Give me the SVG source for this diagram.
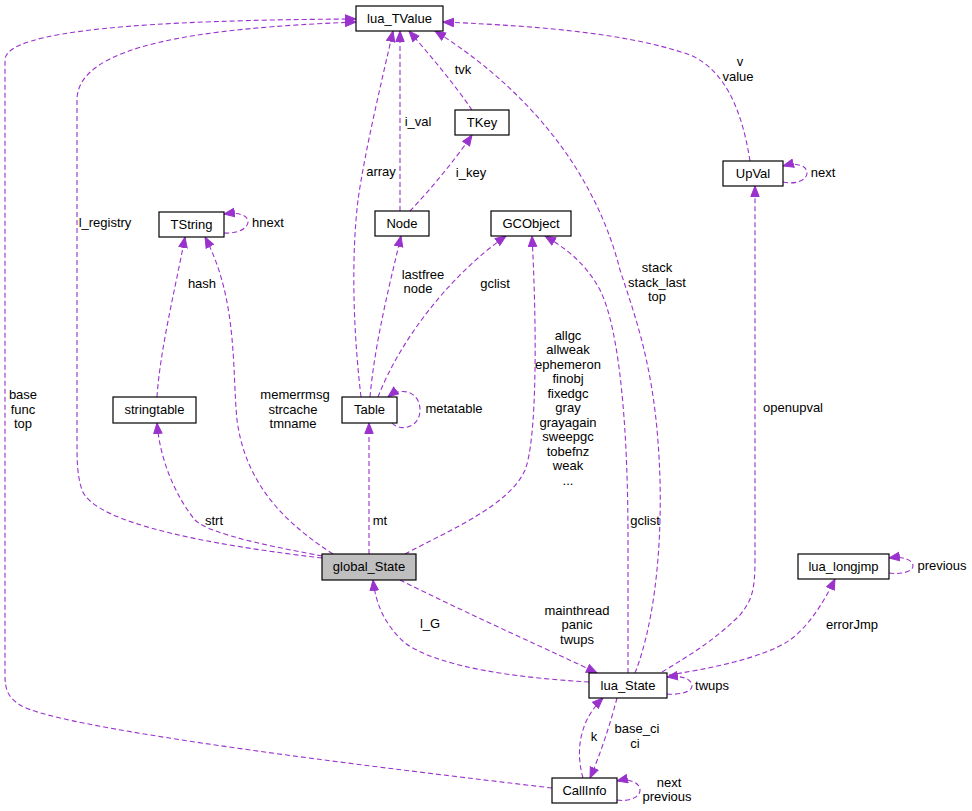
<svg xmlns="http://www.w3.org/2000/svg" width="972" height="811" viewBox="0 0 972 811">
<style>
.n rect{fill:#fff;stroke:#000;stroke-width:1.2}
.n text,.l{font-family:"Liberation Sans",Arial,sans-serif;font-size:13px;fill:#000;text-anchor:middle}
#edges path{fill:none;stroke:#9a32cd;stroke-width:1.1;stroke-dasharray:5,3;marker-end:url(#a)}
</style>
<defs>
<marker id="a" markerUnits="userSpaceOnUse" markerWidth="13" markerHeight="11" refX="11" refY="5" orient="auto">
<path d="M0.5,0.8 L11,5 L0.5,9.2 z" fill="#9a32cd" stroke="#9a32cd"/>
</marker>
</defs>
<rect width="972" height="811" fill="#fff"/>
<g id="edges">
<path d="M322,558 C220,546 95,525 82,490 C77,475 77,460 77,440 L77,100 C77,45 200,28 356,22"/>
<path d="M552,788 C400,770 60,730 20,705 C8,697 5,690 5,675 L5,60 C5,30 150,20 356,19"/>
<path d="M361,397 C352,320 352,250 358,200 C365,150 382,80 393,31"/>
<path d="M400,211 L400,31"/>
<path d="M472,110 C455,85 430,55 409,31"/>
<path d="M635,673 C652,630 662,560 660,480 C657,380 640,330 620,270 C600,190 545,100 435,31"/>
<path d="M750,161 C742,110 725,70 690,55 C620,30 510,25 443,22"/>
<path d="M783,182 C796,185 807,180 807,173 C807,166 798,162 783,166"/>
<path d="M224,233 C238,234 248,228 248,222 C248,215 238,212 224,214"/>
<path d="M157,397 C160,350 175,290 185,237"/>
<path d="M333,554 C280,520 245,480 237,420 C232,370 238,300 205,237"/>
<path d="M322,556 C280,548 210,535 195,520 C175,495 160,460 157,423"/>
<path d="M410,211 C430,190 455,160 472,135"/>
<path d="M370,397 C375,340 392,275 401,236"/>
<path d="M378,397 C400,340 450,275 506,236"/>
<path d="M392,423 C400,432 420,428 420,410 C420,392 402,386 388,397"/>
<path d="M369,554 L369,423"/>
<path d="M405,554 C450,530 510,505 525,470 C537,440 537,330 532,236"/>
<path d="M628,673 L628,540 C628,430 620,330 600,290 C585,262 565,248 545,236"/>
<path d="M400,580 C470,615 560,655 597,673"/>
<path d="M589,682 C520,678 440,668 405,643 C385,625 376,605 373,580"/>
<path d="M667,694 C680,695 692,692 692,686 C692,679 682,675 667,677"/>
<path d="M662,672 C690,655 715,640 740,615 C752,600 755,590 755,560 L755,186"/>
<path d="M669,675 C700,670 760,660 790,640 C810,625 825,600 835,579"/>
<path d="M889,573 C902,575 913,571 913,566 C913,560 903,556 889,558"/>
<path d="M583,778 C575,750 580,720 603,698"/>
<path d="M617,698 C610,725 600,755 590,778"/>
<path d="M617,800 C630,802 640,797 640,790 C640,783 630,778 617,781"/>
</g>
<g id="labels">
<text class="l" x="105" y="227">l_registry</text>
<text class="l" x="23" y="399">base</text>
<text class="l" x="23" y="414">func</text>
<text class="l" x="23" y="428">top</text>
<text class="l" x="381" y="176">array</text>
<text class="l" x="418" y="126">i_val</text>
<text class="l" x="463" y="74">tvk</text>
<text class="l" x="471" y="177">i_key</text>
<text class="l" x="268" y="227">hnext</text>
<text class="l" x="202" y="288">hash</text>
<text class="l" x="423" y="279">lastfree</text>
<text class="l" x="418" y="293">node</text>
<text class="l" x="495" y="288">gclist</text>
<text class="l" x="295" y="399">memerrmsg</text>
<text class="l" x="293" y="414">strcache</text>
<text class="l" x="293" y="428">tmname</text>
<text class="l" x="454" y="413">metatable</text>
<text class="l" x="568" y="340">allgc</text>
<text class="l" x="568" y="354">allweak</text>
<text class="l" x="568" y="369">ephemeron</text>
<text class="l" x="568" y="383">finobj</text>
<text class="l" x="568" y="398">fixedgc</text>
<text class="l" x="568" y="412">gray</text>
<text class="l" x="568" y="427">grayagain</text>
<text class="l" x="568" y="441">sweepgc</text>
<text class="l" x="568" y="456">tobefnz</text>
<text class="l" x="568" y="470">weak</text>
<text class="l" x="568" y="485">...</text>
<text class="l" x="657" y="272">stack</text>
<text class="l" x="657" y="287">stack_last</text>
<text class="l" x="657" y="301">top</text>
<text class="l" x="740" y="66">v</text>
<text class="l" x="738" y="81">value</text>
<text class="l" x="823" y="177">next</text>
<text class="l" x="793" y="412">openupval</text>
<text class="l" x="214" y="525">strt</text>
<text class="l" x="380" y="525">mt</text>
<text class="l" x="645" y="525">gclist</text>
<text class="l" x="577" y="615">mainthread</text>
<text class="l" x="577" y="629">panic</text>
<text class="l" x="577" y="644">twups</text>
<text class="l" x="430" y="628">l_G</text>
<text class="l" x="852" y="629">errorJmp</text>
<text class="l" x="942" y="570">previous</text>
<text class="l" x="712" y="690">twups</text>
<text class="l" x="594" y="741">k</text>
<text class="l" x="637" y="733">base_ci</text>
<text class="l" x="635" y="748">ci</text>
<text class="l" x="669" y="787">next</text>
<text class="l" x="667" y="801">previous</text>
</g>
<g id="lua_TValue" class="n"><rect x="356" y="6" width="87" height="25"/><text x="399.5" y="23">lua_TValue</text></g>
<g id="TKey" class="n"><rect x="455" y="110" width="54" height="25"/><text x="482" y="127">TKey</text></g>
<g id="Node" class="n"><rect x="375" y="211" width="54" height="25"/><text x="402" y="228">Node</text></g>
<g id="GCObject" class="n"><rect x="491" y="211" width="80" height="25"/><text x="531" y="228">GCObject</text></g>
<g id="TString" class="n"><rect x="159" y="212" width="65" height="25"/><text x="191.5" y="229">TString</text></g>
<g id="stringtable" class="n"><rect x="113" y="397" width="83" height="26"/><text x="154.5" y="414">stringtable</text></g>
<g id="Table" class="n"><rect x="342" y="397" width="55" height="26"/><text x="369.5" y="414">Table</text></g>
<g id="global_State" class="n"><rect x="322" y="554" width="94" height="26" style="fill:#bfbfbf"/><text x="369" y="571">global_State</text></g>
<g id="lua_State" class="n"><rect x="589" y="673" width="78" height="25"/><text x="628" y="690">lua_State</text></g>
<g id="CallInfo" class="n"><rect x="552" y="778" width="65" height="25"/><text x="584.5" y="795">CallInfo</text></g>
<g id="UpVal" class="n"><rect x="723" y="161" width="60" height="25"/><text x="753" y="178">UpVal</text></g>
<g id="lua_longjmp" class="n"><rect x="798" y="554" width="91" height="25"/><text x="843.5" y="571">lua_longjmp</text></g>
</svg>
